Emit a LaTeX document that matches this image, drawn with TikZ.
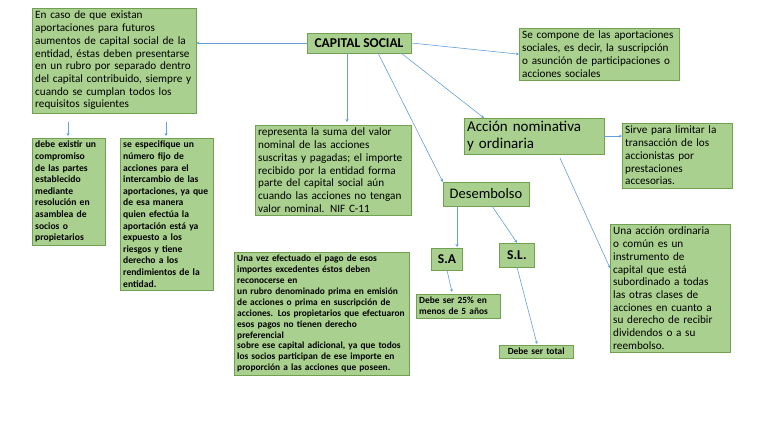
\documentclass[tikz,border=0pt]{standalone}
\usepackage{fontspec}
\setmainfont{Carlito}
\usetikzlibrary{arrows.meta}
\definecolor{boxfill}{RGB}{169,208,142}
\definecolor{boxline}{RGB}{112,160,80}
\definecolor{linkblue}{RGB}{100,160,215}
\tikzset{
  box/.style={rectangle, draw=boxline, fill=boxfill, inner sep=3pt, align=left, anchor=north west, font=\fontsize{11.2}{12.7}\selectfont},
  smallbox/.style={box, font=\fontsize{9.6}{11.6}\selectfont\bfseries},
  title/.style={box, align=center, anchor=center, font=\fontsize{13.5}{15}\selectfont\bfseries},
  arrow/.style={draw=linkblue, -{Stealth[length=3pt,width=3pt]}, semithick}
}
\begin{document}
\begin{tikzpicture}[x=1pt,y=-1pt]
    \useasboundingbox (0,0) rectangle (768,433);

    \node (capital) [title, minimum width=104, minimum height=20, inner sep=2pt] at (359,43) {CAPITAL SOCIAL};
    \node (futuros) [box, text width=158] at (32,8) {En caso de que existan\\aportaciones para futuros\\aumentos de capital social de la\\entidad, éstas deben presentarse\\en un rubro por separado dentro\\del capital contribuido, siempre y\\cuando se cumplan todos los\\requisitos siguientes};
    \node (compone) [box, text width=154] at (519,28) {Se compone de las aportaciones\\sociales, es decir, la suscripción\\o asunción de participaciones o\\acciones sociales};
    \node (compromiso) [smallbox, text width=67] at (32,138) {debe existir un\\compromiso\\de las partes\\establecido\\mediante\\resolución en\\asamblea de\\socios o\\propietarios};
    \node (numero) [smallbox, text width=87] at (120,138) {se especifique un\\número fijo de\\acciones para el\\intercambio de las\\aportaciones, ya que\\de esa manera\\quien efectúa la\\aportación está ya\\expuesto a los\\riesgos y tiene\\derecho a los\\rendimientos de la\\entidad.};
    \node (suma) [box, text width=150] at (255,125) {representa la suma del valor\\nominal de las acciones\\suscritas y pagadas; el importe\\recibido por la entidad forma\\parte del capital social aún\\cuando las acciones no tengan\\valor nominal. NIF C-11};
    \node (nominativa) [box, text width=134, font=\fontsize{15}{17}\selectfont] at (464,118) {Acción nominativa\\y ordinaria};
    \node (desembolso) [title, font=\fontsize{14.5}{16}\selectfont, minimum width=86, minimum height=24, inner sep=2pt] at (486,194) {Desembolso};
    \node (sa) [title, minimum width=31, minimum height=22, inner sep=2pt] at (447,259) {S.A};
    \node (sl) [title, minimum width=35, minimum height=24, inner sep=2pt] at (517,255) {S.L.};
    \node (excedentes) [box, text width=169, font=\fontsize{9.4}{10.9}\selectfont\bfseries] at (234,252) {Una vez efectuado el pago de esos\\importes excedentes éstos deben\\reconocerse en\\un rubro denominado prima en emisión\\de acciones o prima en suscripción de\\acciones. Los propietarios que efectuaron\\esos pagos no tienen derecho\\preferencial\\sobre ese capital adicional, ya que todos\\los socios participan de ese importe en\\proporción a las acciones que poseen.};
    \node (cinco) [box, text width=78, font=\fontsize{9.4}{11}\selectfont\bfseries] at (416,294) {Debe ser 25\% en\\menos de 5 años};
    \node (total) [box, text width=68, align=center, font=\fontsize{9.4}{10}\selectfont\bfseries] at (499,345) {Debe ser total};
    \node (sirve) [box, text width=104] at (622,123) {Sirve para limitar la\\transacción de los\\accionistas por\\prestaciones\\accesorias.};
    \node (ordinaria) [box, text width=114] at (610,224) {Una acción ordinaria\\o común es un\\instrumento de\\capital que está\\subordinado a todas\\las otras clases de\\acciones en cuanto a\\su derecho de recibir\\dividendos o a su\\reembolso.};

    \draw [arrow] (capital.west) -- (futuros.east |- capital.west);
    \draw [arrow] (capital.east) -- (compone.west);
    \draw [arrow] (347,53) -- (347,122);
    \draw [arrow] (378,53) -- (desembolso.north west);
    \draw [arrow] (401,53) -- (484,118);
    \draw [arrow] (68,122) -- (68,136);
    \draw [arrow] (166,122) -- (166,136);
    \draw [arrow] (nominativa.east) -- (sirve.west |- nominativa.east);
    \draw [arrow] (560,158) -- (610,268);
    \draw [arrow] (457,206) -- (457,247);
    \draw [arrow] (492,206) -- (sl.north);
    \draw [arrow] (sa.south) -- (452,292);
    \draw [arrow] (sl.south) -- (537,344);

\end{tikzpicture}
\end{document}
